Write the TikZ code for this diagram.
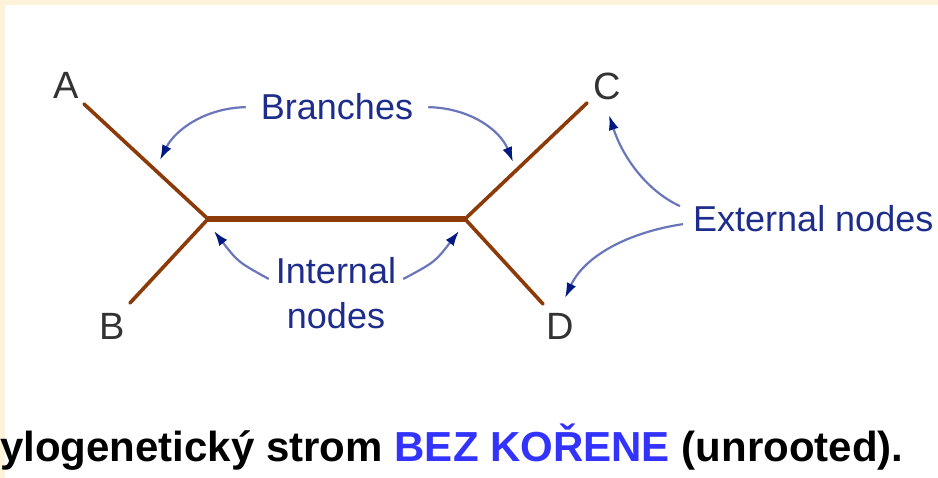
\documentclass[tikz,border=0pt]{standalone}
\usepackage{fontspec}
\setmainfont{Liberation Sans}
\usetikzlibrary{arrows.meta, positioning}
\definecolor{cream}{RGB}{253,242,218}
\definecolor{treebrown}{RGB}{140,58,8}
\definecolor{labelblue}{RGB}{30,45,140}
\definecolor{pointblue}{RGB}{105,118,188}
\definecolor{tipblue}{RGB}{0,25,130}
\definecolor{capblue}{RGB}{51,51,255}

\begin{document}
\begin{tikzpicture}[x=1pt,y=-1pt,
    leaf/.style={font=\fontsize{38}{38}\selectfont, text=black!80, inner sep=0pt},
    note/.style={font=\fontsize{36}{45}\selectfont, text=labelblue, inner sep=0pt, align=center},
    branch/.style={draw=treebrown, line width=3.6pt, line cap=round},
    pointer/.style={draw=pointblue, line width=2.2pt,
      -{Latex[length=15pt,width=10pt,color=tipblue]}}]
  \fill[cream] (0,0) rectangle (938,478);
  \useasboundingbox (0,0) rectangle (938,478);
  \clip (0,0) rectangle (938,478);
  \fill[white] (5,5) rectangle (938,478);

  % tree
  \coordinate (iL) at (208,219);
  \coordinate (iR) at (465,219);
  \coordinate (a) at (84,104);
  \coordinate (b) at (130,303);
  \coordinate (c) at (587,103);
  \coordinate (d) at (543,304);
  \path[branch]
    (iL) edge (a)
         edge (b)
    (iR) edge (c)
         edge (d);
  \draw[branch, line width=5.5pt, line cap=butt] (iL) -- (iR);

  \node[leaf] (A) at (66,85) {A};
  \node[leaf] (B) at (112,326) {B};
  \node[leaf] (C) at (607,86) {C};
  \node[leaf] (D) at (560,326) {D};

  % labels
  \node[note, anchor=base] (br) at (337,120) {Branches};
  \node[note] (in) at (336,293) {Internal\\nodes};
  \node[note, anchor=base west] (ex) at (693,232) {External nodes};

  \coordinate (brA) at (160,160);
  \coordinate (brC) at (513,162);
  \coordinate (inA) at (214,231);
  \coordinate (inB) at (459,231);
  \coordinate (exC) at (609,115);
  \coordinate (exD) at (565,298);

  \path[pointer] ([xshift=-15pt]br.west) .. controls (205,108) and (175,130) .. (brA);
  \path[pointer] ([xshift=15pt]br.east) .. controls (470,108) and (500,130) .. (brC);
  \path[pointer] ([shift={(-7,-14)}]in.west) .. controls (238,262) .. (inA);
  \path[pointer] ([shift={(7,-14)}]in.east) .. controls (435,262) .. (inB);
  \path[pointer] ([shift={(-13,-13)}]ex.west) .. controls (645,190) and (622,155) .. (exC);
  \path[pointer] ([shift={(-10,5)}]ex.west) .. controls (630,232) and (585,255) .. (exD);

  % caption
  \node[anchor=base west, inner sep=0pt, font=\bfseries\fontsize{42}{42}\selectfont] (cap) at (0,462)
    {ylogenetický strom \textcolor{capblue}{BEZ KOŘENE} (unrooted).};
\end{tikzpicture}
\end{document}
